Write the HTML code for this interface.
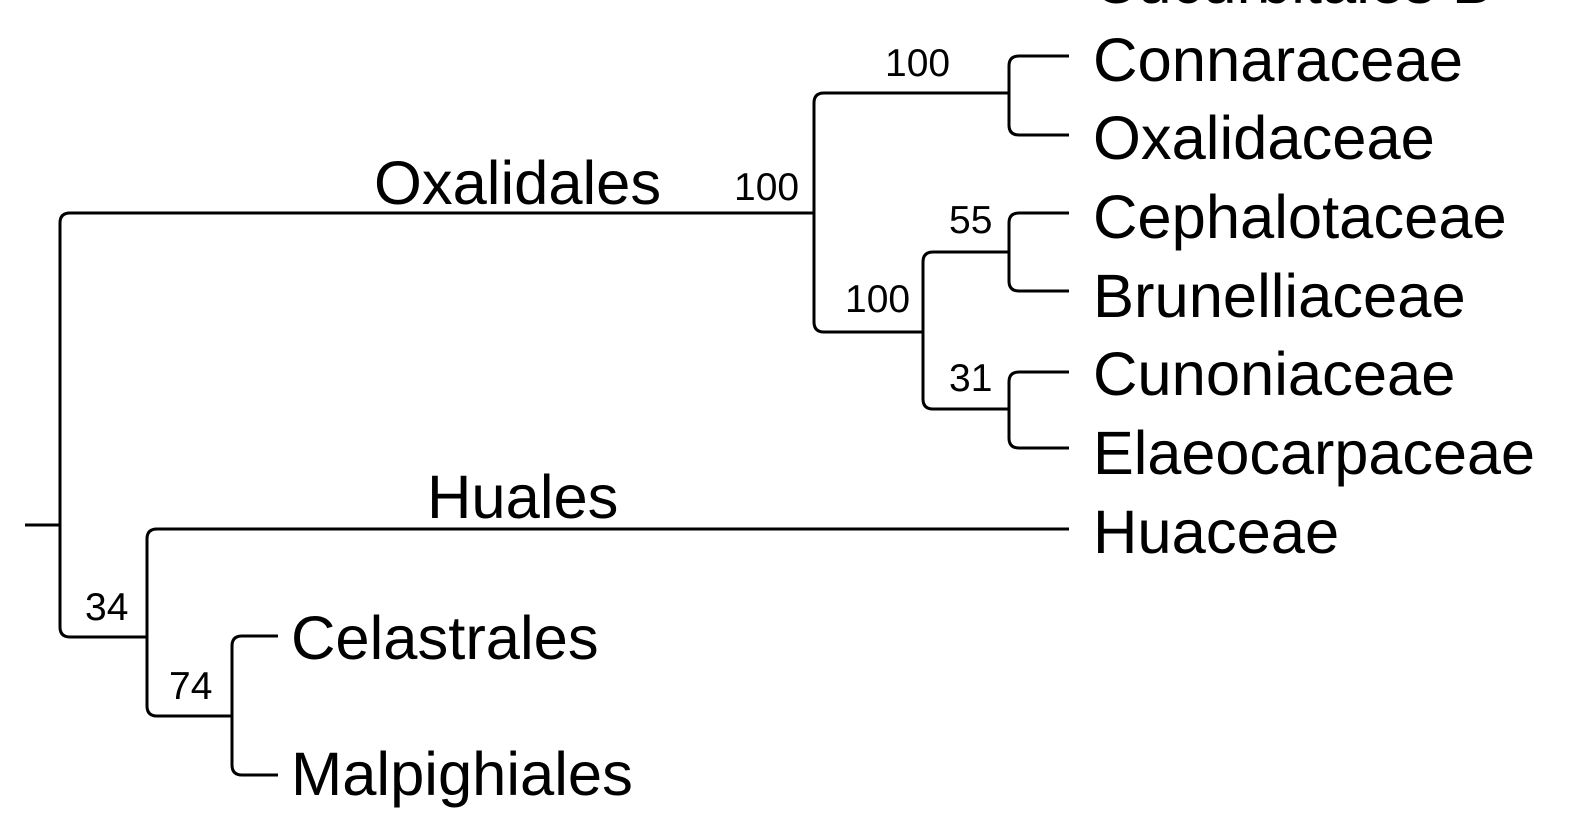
<!DOCTYPE html>
<html><head><style>
html,body{margin:0;padding:0;background:#fff;}
svg{display:block;}
text{font-family:"Liberation Sans",Arial,sans-serif;fill:#000;}
.t{font-size:61.5px;}
.n{font-size:39px;}
</style></head><body>
<svg width="1584" height="828" viewBox="0 0 1584 828">
<g fill="none" stroke="#000" stroke-width="3">
<path d="M25 525 H60"/>
<path d="M814 213 H70 Q60 213 60 223 V627 Q60 637 70 637 H147"/>
<path d="M1069 529 H157 Q147 529 147 539 V706 Q147 716 157 716 H232"/>
<path d="M278 636 H242 Q232 636 232 646 V765 Q232 775 242 775 H278"/>
<path d="M1009 93 H824 Q814 93 814 103 V322 Q814 332 824 332 H923"/>
<path d="M1069 56 H1019 Q1009 56 1009 66 V125 Q1009 135 1019 135 H1069"/>
<path d="M1009 252 H933 Q923 252 923 262 V399 Q923 409 933 409 H1009"/>
<path d="M1069 213 H1019 Q1009 213 1009 223 V281 Q1009 291 1019 291 H1069"/>
<path d="M1069 372 H1019 Q1009 372 1009 382 V438 Q1009 448 1019 448 H1069"/>
</g>
<text class="t" x="1093" y="3">Cucurbitales B</text>
<text class="t" x="1093" y="81" textLength="370" lengthAdjust="spacingAndGlyphs">Connaraceae</text>
<text class="t" x="1093" y="159">Oxalidaceae</text>
<text class="t" x="1093" y="238">Cephalotaceae</text>
<text class="t" x="1093" y="317">Brunelliaceae</text>
<text class="t" x="1093" y="395">Cunoniaceae</text>
<text class="t" x="1093" y="474" textLength="442" lengthAdjust="spacingAndGlyphs">Elaeocarpaceae</text>
<text class="t" x="1093" y="553">Huaceae</text>
<text class="t" x="374" y="204">Oxalidales</text>
<text class="t" x="427" y="518">Huales</text>
<text class="t" x="291" y="659">Celastrales</text>
<text class="t" x="291" y="795">Malpighiales</text>
<text class="n" x="885" y="76">100</text>
<text class="n" x="734" y="200">100</text>
<text class="n" x="949" y="233">55</text>
<text class="n" x="845" y="312">100</text>
<text class="n" x="949" y="391">31</text>
<text class="n" x="85" y="620">34</text>
<text class="n" x="169" y="699">74</text>
</svg>
</body></html>
